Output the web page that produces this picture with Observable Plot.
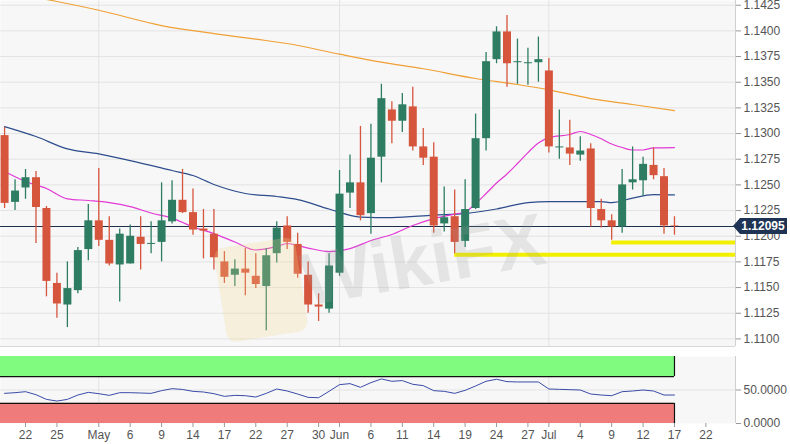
<!DOCTYPE html>
<html><head><meta charset="utf-8">
<script src="https://cdn.jsdelivr.net/npm/d3@7"></script>
<script src="https://cdn.jsdelivr.net/npm/@observablehq/plot@0.6"></script>
<style>
body{margin:0;background:#fff;}
#wrap{position:relative;width:790px;height:444px;overflow:hidden;font-family:"Liberation Sans",Arial,sans-serif;background:#fff;}
#wrap svg{display:block;}
</style></head><body>
<div id="wrap"></div>
<script>
// ---- data ----
const dates = ["2019-04-18","2019-04-19","2019-04-22","2019-04-23","2019-04-24","2019-04-25","2019-04-26","2019-04-29","2019-04-30",
"2019-05-01","2019-05-02","2019-05-03","2019-05-06","2019-05-07","2019-05-08","2019-05-09","2019-05-10","2019-05-13","2019-05-14","2019-05-15","2019-05-16","2019-05-17","2019-05-20","2019-05-21","2019-05-22","2019-05-23","2019-05-24","2019-05-27","2019-05-28","2019-05-29","2019-05-30","2019-05-31",
"2019-06-03","2019-06-04","2019-06-05","2019-06-06","2019-06-07","2019-06-10","2019-06-11","2019-06-12","2019-06-13","2019-06-14","2019-06-17","2019-06-18","2019-06-19","2019-06-20","2019-06-21","2019-06-24","2019-06-25","2019-06-26","2019-06-27","2019-06-28",
"2019-07-01","2019-07-02","2019-07-03","2019-07-04","2019-07-05","2019-07-08","2019-07-09","2019-07-10","2019-07-11","2019-07-12","2019-07-15","2019-07-16","2019-07-17","2019-07-18","2019-07-19","2019-07-22"];

const open  = [1.1298,1.1233,1.1247,1.1257,1.1227,1.1154,1.1133,1.1147,1.1187,1.1215,1.1196,1.1172,1.1173,1.1199,1.1192,1.1194,1.1214,1.1235,1.1223,1.1207,1.1202,1.1175,1.1162,1.1168,1.1161,1.1151,1.1183,1.1210,1.1192,1.1162,1.1133,1.1129,1.1164,1.1242,1.1252,1.1222,1.1277,1.1323,1.1312,1.1326,1.1287,1.1277,1.1212,1.1219,1.1195,1.1227,1.1295,1.1372,1.1399,1.1369,1.1368,1.1369,1.1361,1.1286,1.1286,1.1279,1.1285,1.1226,1.1215,1.1209,1.1252,1.1254,1.1269,1.1258,1.1210];
const high  = [1.1306,1.1255,1.1265,1.1263,1.1229,1.1164,1.1175,1.1189,1.1231,1.1266,1.1219,1.1207,1.1211,1.1219,1.1214,1.1252,1.1254,1.1265,1.1246,1.1226,1.1226,1.1185,1.1177,1.1188,1.1183,1.1188,1.1214,1.1219,1.1203,1.1175,1.1144,1.1183,1.1264,1.1279,1.1307,1.1309,1.1348,1.1331,1.1339,1.1345,1.1305,1.1291,1.1248,1.1245,1.1255,1.1319,1.1379,1.1404,1.1415,1.1392,1.1383,1.1394,1.1373,1.1323,1.1313,1.1297,1.1290,1.1236,1.1221,1.1265,1.1287,1.1277,1.1286,1.1266,1.1219];
const low   = [1.1227,1.1225,1.1236,1.1193,1.1141,1.1120,1.1111,1.1144,1.1176,1.1190,1.1171,1.1136,1.1173,1.1167,1.1183,1.1175,1.1212,1.1222,1.1201,1.1178,1.1167,1.1154,1.1151,1.1142,1.1149,1.1108,1.1174,1.1187,1.1159,1.1125,1.1117,1.1125,1.1161,1.1227,1.1215,1.1202,1.1252,1.1290,1.1301,1.1283,1.1269,1.1203,1.1204,1.1183,1.1189,1.1226,1.1283,1.1368,1.1345,1.1348,1.1347,1.1350,1.1281,1.1275,1.1269,1.1273,1.1209,1.1208,1.1196,1.1203,1.1245,1.1239,1.1255,1.1202,1.1201];
const close = [1.1232,1.1244,1.1257,1.1228,1.1156,1.1134,1.1149,1.1186,1.1215,1.1196,1.1173,1.1202,1.1200,1.1192,1.1193,1.1215,1.1235,1.1223,1.1206,1.1205,1.1179,1.1160,1.1168,1.1164,1.1153,1.1181,1.1208,1.1194,1.1163,1.1133,1.1131,1.1171,1.1241,1.1252,1.1220,1.1276,1.1334,1.1312,1.1328,1.1287,1.1276,1.1210,1.1218,1.1194,1.1226,1.1295,1.1370,1.1399,1.1368,1.1370,1.1369,1.1372,1.1287,1.1287,1.1280,1.1283,1.1227,1.1215,1.1209,1.1250,1.1255,1.1270,1.1259,1.1210,1.12095];

const rsi = [45,46,47.5,43,36,33.5,36,42.5,46.5,44.5,42,46,46,45.5,45,49,52,50.8,48,47,44.5,40.5,42,41.5,39.5,45,51.5,48.5,44,39,38.5,48,58,59.5,54,61,66.5,63,64,58.5,56.5,49,48,45,49.5,56,63,66,62.5,62,62,62,51.5,51,50.5,50,44,42.5,41.5,47.5,48.5,50,48.5,42.5,42.5];

const sma200 = [["2019-04-18",1.14383],["2019-04-25",1.14286],["2019-05-01",1.14201],["2019-05-09",1.14052],["2019-05-16",1.13974],["2019-05-22",1.13919],["2019-05-27",1.13877],["2019-06-03",1.13773],["2019-06-07",1.13695],["2019-06-13",1.13631],["2019-06-20",1.13536],["2019-06-26",1.13478],["2019-07-01",1.13426],["2019-07-05",1.13341],["2019-07-11",1.13283],["2019-07-17",1.13224]];
const sma100 = [["2019-04-18",1.13068],["2019-04-23",1.12971],["2019-04-26",1.12851],["2019-05-01",1.12803],["2019-05-06",1.12737],["2019-05-10",1.12640],["2019-05-14",1.12591],["2019-05-16",1.12504],["2019-05-21",1.12416],["2019-05-24",1.12387],["2019-05-28",1.12357],["2019-05-31",1.12265],["2019-06-05",1.12187],["2019-06-10",1.12182],["2019-06-14",1.12206],["2019-06-19",1.12221],["2019-06-24",1.12265],["2019-06-27",1.12328],["2019-07-01",1.12338],["2019-07-04",1.12338],["2019-07-08",1.12338],["2019-07-09",1.12328],["2019-07-11",1.12372],["2019-07-15",1.12406],["2019-07-17",1.12403]];
const sma20 = [["2019-04-18",1.12630],["2019-04-22",1.12533],["2019-04-24",1.12465],["2019-04-26",1.12364],["2019-04-30",1.12348],["2019-05-02",1.12328],["2019-05-06",1.12289],["2019-05-08",1.12226],["2019-05-10",1.12177],["2019-05-14",1.12090],["2019-05-16",1.12026],["2019-05-20",1.11944],["2019-05-22",1.11866],["2019-05-24",1.11900],["2019-05-27",1.11929],["2019-05-29",1.11885],["2019-05-31",1.11851],["2019-06-04",1.11880],["2019-06-06",1.11958],["2019-06-10",1.12017],["2019-06-12",1.12104],["2019-06-14",1.12172],["2019-06-18",1.12216],["2019-06-19",1.12236],["2019-06-20",1.12318],["2019-06-21",1.12416],["2019-06-24",1.12518],["2019-06-25",1.12606],["2019-06-26",1.12708],["2019-06-27",1.12815],["2019-06-28",1.12908],["2019-07-01",1.12961],["2019-07-03",1.12991],["2019-07-04",1.13020],["2019-07-05",1.12991],["2019-07-08",1.12949],["2019-07-09",1.12898],["2019-07-10",1.12864],["2019-07-11",1.12840],["2019-07-12",1.12840],["2019-07-15",1.12861],["2019-07-17",1.12864]];

const currentPrice = 1.12095;
const supportFrom = ["2019-06-18","2019-07-09"];
const supportPrice = [1.1182, 1.1194];

const priceTicks = [1.1100,1.1125,1.1150,1.1175,1.1200,1.1225,1.1250,1.1275,1.1300,1.1325,1.1350,1.1375,1.1400,1.1425];
const dateTicks = ["2019-04-22","2019-04-25","2019-05-01","2019-05-06","2019-05-09","2019-05-14","2019-05-17","2019-05-22","2019-05-27","2019-05-30","2019-06-03","2019-06-06","2019-06-11","2019-06-14","2019-06-19","2019-06-24","2019-06-27","2019-07-01","2019-07-04","2019-07-09","2019-07-12","2019-07-17","2019-07-22"];
const dateTickLabels = ["22","25","May","6","9","14","17","22","27","30","Jun","6","11","14","19","24","27","Jul","4","9","12","17","22"];
const monthStarts = ["2019-05-01","2019-06-03","2019-07-01"];
const rsiTicks = [0, 50];
const rsiUpperBand = [70, 100];
const rsiLowerBand = [0, 30];

// ---- build ----
const pos = new Map(dates.map((d, i) => [d, i]));
const candles = open.map((o, i) => ({x: i, open: o, high: high[i], low: low[i], close: close[i], up: close[i] >= o}));
const lastX = candles.length - 1;
const xDomain = [-0.39, 69.83];
const yDomain = [1.10926, 1.14296];
const UP = "#2e7d63", DOWN = "#d6553d";
const toPts = arr => arr.map(([d, v]) => ({x: pos.get(d), y: v}));
const tickLabel = new Map(dateTicks.map((d, i) => [pos.get(d), dateTickLabels[i]]));
const supports = supportFrom.map((d, i) => ({x1: pos.get(d), x2: xDomain[1], y: supportPrice[i]}));
const style = {background: "transparent", fontFamily: "'Liberation Sans', Arial, sans-serif", fontSize: "12px", color: "#555"};

const main = Plot.plot({
  width: 790, height: 347, marginLeft: 0, marginRight: 55, marginTop: 0, marginBottom: 1,
  style,
  x: {domain: xDomain, axis: null},
  y: {domain: yDomain, axis: null},
  marks: [
    Plot.frame({fill: "#f7f7f7", stroke: null}),
    Plot.gridY(priceTicks, {stroke: "#e3e3e3", strokeOpacity: 1}),
    Plot.gridX(monthStarts.map(d => pos.get(d)), {stroke: "#e3e3e3", strokeOpacity: 1}),
    Plot.ruleY([yDomain[0]], {stroke: "#d8d8d8"}),
    Plot.ruleX([xDomain[1]], {stroke: "#d0d0d0"}),
    Plot.axisY(priceTicks, {anchor: "right", tickFormat: d3.format(".4f"), tickSize: 5, tickPadding: 3, stroke: "#999", fill: "#555"}),
    Plot.ruleY(supports, {x1: "x1", x2: "x2", y: "y", stroke: "#f3ef00", strokeWidth: 4, clip: true}),
    Plot.ruleY([currentPrice], {stroke: "#1d2f4c", strokeWidth: 1.2}),
    Plot.line(toPts(sma200), {x: "x", y: "y", stroke: "#f0a035", strokeWidth: 1.2, curve: "monotone-x", clip: true}),
    Plot.line(toPts(sma100), {x: "x", y: "y", stroke: "#2d4c8c", strokeWidth: 1.2, curve: "monotone-x", clip: true}),
    Plot.line(toPts(sma20), {x: "x", y: "y", stroke: "#e33ad6", strokeWidth: 1.2, curve: "monotone-x", clip: true}),
    Plot.ruleX(candles, {x: "x", y1: "low", y2: "high", stroke: d => d.up ? UP : DOWN, strokeWidth: 1.3, clip: true}),
    Plot.ruleX(candles, {x: "x", y1: "open", y2: "close", stroke: d => d.up ? UP : DOWN, strokeWidth: 8, clip: true})
  ]
});

const lower = Plot.plot({
  width: 790, height: 97, marginLeft: 0, marginRight: 55, marginTop: 9, marginBottom: 21,
  style,
  x: {domain: xDomain, axis: null},
  y: {domain: [0, 100], axis: null},
  marks: [
    Plot.frame({fill: "#f7f7f7", stroke: null}),
    Plot.gridX(monthStarts.map(d => pos.get(d)), {stroke: "#e3e3e3", strokeOpacity: 1}),
    Plot.gridY([50], {stroke: "#e3e3e3", strokeOpacity: 1}),
    Plot.ruleX([xDomain[1]], {stroke: "#d0d0d0"}),
    Plot.rect([rsiUpperBand, rsiLowerBand], {x1: xDomain[0] - 1, x2: lastX, y1: d => d[0], y2: d => d[1], fill: (d, i) => i === 0 ? "#80fb80" : "#f07b7b", clip: true}),
    Plot.ruleY([rsiUpperBand[0], rsiLowerBand[1]], {x1: xDomain[0] - 1, x2: lastX, stroke: "#111", strokeWidth: 1.2, clip: true}),
    Plot.ruleX([lastX, lastX], {x: d => d, y1: (d, i) => i === 0 ? rsiUpperBand[0] : rsiLowerBand[0], y2: (d, i) => i === 0 ? rsiUpperBand[1] : rsiLowerBand[1], stroke: "#111", strokeWidth: 1.2}),
    Plot.line(rsi, {x: (d, i) => i, y: d => d, stroke: "#3a4aa8", strokeWidth: 1, clip: true}),
    Plot.axisY(rsiTicks, {anchor: "right", tickFormat: d3.format(".4f"), tickSize: 5, tickPadding: 3, stroke: "#999", fill: "#555"}),
    Plot.axisX(dateTicks.map(d => pos.get(d)), {anchor: "bottom", tickFormat: i => tickLabel.get(i), tickSize: 4, tickPadding: 3, stroke: "#999", fill: "#555"})
  ]
});

const wrap = document.getElementById("wrap");
wrap.appendChild(main);
wrap.appendChild(lower);

// price tag on the right axis
const py = main.scale("y").apply(currentPrice);
const px = main.scale("x").apply(xDomain[1]);
const svg = d3.select(main);
svg.append("path")
  .attr("d", `M${px - 2},${py} L${px + 5},${py - 8} L${px + 52},${py - 8} L${px + 52},${py + 8} L${px + 5},${py + 8} Z`)
  .attr("fill", "#1f3354");
svg.append("text").attr("x", px + 28).attr("y", py).attr("dy", "0.36em")
  .attr("text-anchor", "middle").attr("fill", "#fff").attr("font-weight", "bold")
  .attr("font-size", 12).attr("font-family", "'Liberation Sans', Arial, sans-serif")
  .text(d3.format(".5f")(currentPrice));

// watermark
svg.append("rect").attr("x", 220).attr("y", 242).attr("width", 82).attr("height", 95).attr("rx", 10)
  .attr("fill", "#f2d98a").attr("fill-opacity", 0.25).attr("transform", "rotate(-9 262 290)");
svg.append("text").attr("x", 306).attr("y", 306).attr("transform", "rotate(-10 306 306)")
  .attr("text-anchor", "start")
  .attr("font-size", 74).attr("font-weight", "bold").attr("font-family", "'Liberation Sans', Arial, sans-serif")
  .attr("fill", "#9a9a9a").attr("fill-opacity", 0.2).text("WikiFX");
</script>
</body></html>
